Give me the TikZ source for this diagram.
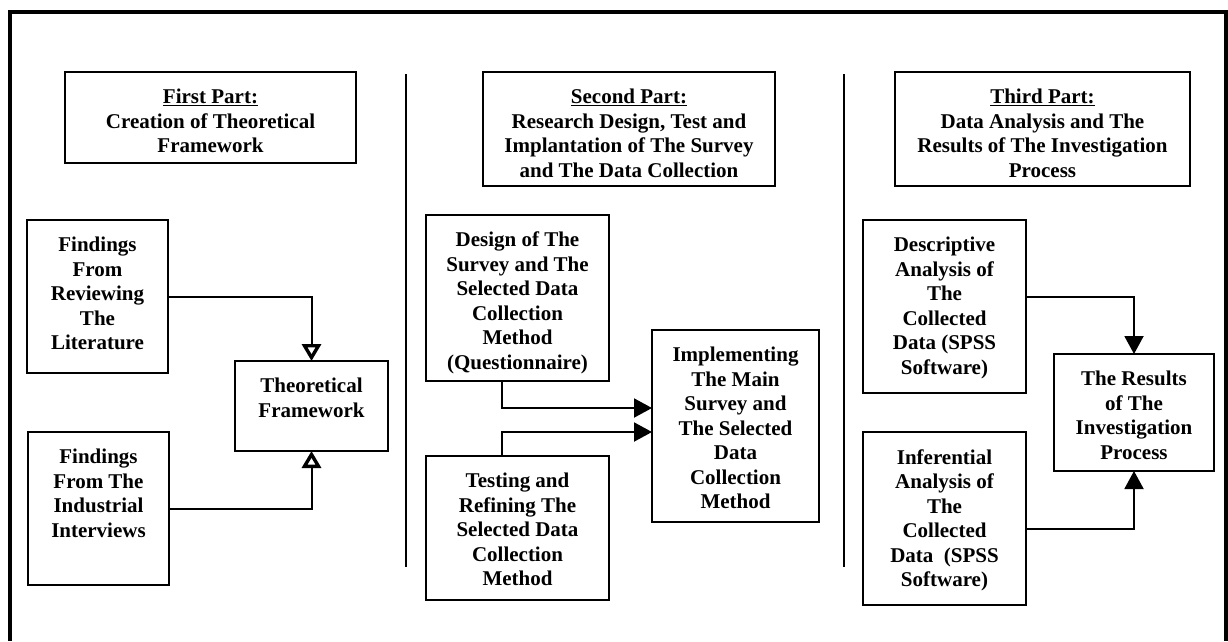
\documentclass[tikz,border=0pt]{standalone}
\usepackage{fontspec}
\setmainfont{Liberation Serif}
\usetikzlibrary{arrows.meta}

% a framed box given by its corners, with its lines of text set from the top
\newcommand\panel[6]{%
  \node[box, minimum width={(#4-#2)*1pt}, minimum height={(#5-#3)*1pt}]
    (#1) at ({(#2+#4)/2},{(#3+#5)/2}) {};
  \node[txt] (#1-t) at ([yshift=-17pt]#1.north) {#6};
}

\begin{document}
\begin{tikzpicture}[x=1pt, y=-1pt,
  box/.style={draw, line width=2.2pt, rectangle, inner sep=0pt, outer sep=0pt},
  txt/.style={anchor=north, align=center, inner sep=0pt,
    font=\fontsize{21}{24.5}\selectfont\bfseries},
  conn/.style={line width=2pt},
  openhead/.style={conn, -{Triangle[open, length=17pt, width=19pt, line width=3.4pt]}},
  fullhead/.style={conn, -{Triangle[length=18pt, width=19pt]}},
  rule/.style={line width=2pt}]
\useasboundingbox (0,0) rectangle (1228,641);

% outer frame, open at the bottom
\coordinate (fbl) at (10,641);
\coordinate (ftl) at (10,12);
\coordinate (ftr) at (1226,12);
\coordinate (fbr) at (1226,641);
\draw[line width=3.4pt] (fbl) -- (ftl) -- (ftr) -- (fbr);

% separators between the three parts
\coordinate (s1a) at (406,74);  \coordinate (s1b) at (406,567);
\coordinate (s2a) at (844,74);  \coordinate (s2b) at (844,567);
\draw[rule] (s1a) -- (s1b);
\draw[rule] (s2a) -- (s2b);

% first part
\panel{h1}{65}{72}{356}{163}{\underline{First Part:}\\Creation of Theoretical\\Framework}
\panel{rev}{27}{220}{168}{373}{Findings\\From\\Reviewing\\The\\Literature}
\panel{ind}{28}{432}{169}{585}{Findings\\From The\\Industrial\\Interviews}
\panel{tf}{235}{361}{388}{451}{Theoretical\\Framework}

\draw[openhead] (rev.east) -| (tf.north);
\draw[openhead] (ind.east) -| (tf.south);

% second part
\panel{h2}{483}{72}{775}{186}{\underline{Second Part:}\\Research Design, Test and\\Implantation of The Survey\\and The Data Collection}
\panel{des}{426}{215}{609}{381}{Design of The\\Survey and The\\Selected Data\\Collection\\Method\\(Questionnaire)}
\panel{tst}{426}{456}{609}{600}{Testing and\\Refining The\\Selected Data\\Collection\\Method}
\panel{imp}{652}{330}{819}{522}{Implementing\\The Main\\Survey and\\The Selected\\Data\\Collection\\Method}

\draw[fullhead] ([xshift=-15.5pt]des.south) |- ([yshift=18pt]imp.west);
\draw[fullhead] ([xshift=-15.5pt]tst.north) |- ([yshift=-6pt]imp.west);

% third part
\panel{h3}{895}{72}{1190}{186}{\underline{Third Part:}\\Data Analysis and The\\Results of The Investigation\\Process}
\panel{dsc}{863}{220}{1026}{393}{Descriptive\\Analysis of\\The\\Collected\\Data (SPSS\\Software)}
\panel{inf}{863}{432}{1026}{605}{Inferential\\Analysis of\\The\\Collected\\Data\ \ (SPSS\\Software)}
\panel{res}{1054}{354}{1214}{471}{The Results\\of The\\Investigation\\Process}

\draw[fullhead] ([yshift=10pt]dsc.east) -| (res.north);
\draw[fullhead] ([yshift=-10pt]inf.east) -| (res.south);
\end{tikzpicture}
\end{document}
